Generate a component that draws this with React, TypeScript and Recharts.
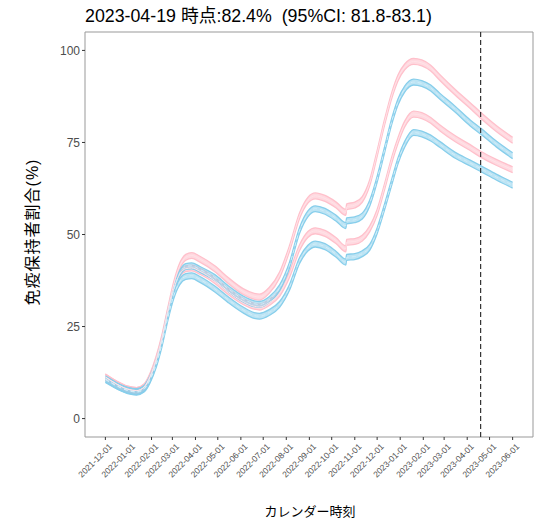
import React from 'react';
import { ComposedChart, Area, Line, XAxis, YAxis, ReferenceLine, ReferenceArea } from 'recharts';

// days since 2021-12-01
const days = [0, 15, 30, 42, 52, 60, 68, 76, 84, 92, 100, 108, 116, 127, 147, 165, 185, 200, 207, 220, 234, 247, 261, 272, 282, 295, 310, 323, 324, 335, 345, 355, 365, 375, 385, 393, 402, 414, 425, 437, 449, 470, 490, 504, 525, 547];

const pinkHigh = [11.3, 9.4, 8.0, 7.6, 8.6, 11.5, 16, 22, 29.5, 36.5, 41.5, 43.8, 44.3, 43.3, 40.7, 37.5, 34.5, 33.2, 33.0, 34.8, 39, 46, 55.2, 59.3, 60.5, 59.8, 58, 56, 57.5, 58, 59.5, 64, 72, 80.5, 88, 92.5, 95.5, 97, 96.6, 95.2, 92.7, 88.6, 85, 82.4, 78.8, 75.6];
const blueHigh = [10.8, 9.0, 7.7, 7.3, 8.2, 10.8, 15, 21, 28.5, 35, 39.5, 41.3, 41.5, 40.5, 38.3, 35.3, 32.5, 31.2, 31.0, 32.3, 35.5, 41.5, 51.2, 55.6, 57, 56.3, 54.4, 52.4, 53.7, 54, 55, 58.5, 65, 73, 81, 86, 89.5, 91.4, 91, 89.8, 87.6, 84, 80.3, 78.1, 74.6, 71.4];
const pinkLow = [11.3, 9.4, 8.0, 7.6, 8.5, 11.2, 15.6, 21.5, 29, 35.3, 39.3, 40.7, 40.9, 40, 37.5, 34.5, 31.8, 30.5, 30.3, 31.5, 34, 39, 46.5, 50, 51, 50.3, 48.3, 46.1, 47.9, 48.1, 49, 51.5, 56, 63, 70.5, 75.5, 80, 82.7, 82.3, 81, 79, 76, 73.6, 71.8, 69.6, 67.6];
const blueLow = [10.6, 8.9, 7.6, 7.2, 8.0, 10.5, 14.5, 20.3, 27.5, 33.5, 37.2, 38.6, 38.8, 37.8, 35.2, 32.3, 29.5, 28.0, 27.8, 28.8, 31, 35.5, 43, 46.3, 47.4, 46.7, 44.6, 42.5, 43.8, 44, 44.8, 46.5, 51, 57.5, 64.5, 70, 74.5, 77.7, 77.3, 76.2, 74.5, 71.5, 69.4, 67.9, 65.6, 63.4];

// 95% CI half width (percentage points)
const ciHalf = 0.8;

const tickDays = [0, 31, 62, 90, 121, 151, 182, 212, 243, 274, 304, 335, 365, 396, 427, 455, 486, 516, 547];
const tickLabels = ['2021-12-01', '2022-01-01', '2022-02-01', '2022-03-01', '2022-04-01', '2022-05-01', '2022-06-01', '2022-07-01', '2022-08-01', '2022-09-01', '2022-10-01', '2022-11-01', '2022-12-01', '2023-01-01', '2023-02-01', '2023-03-01', '2023-04-01', '2023-05-01', '2023-06-01'];
const yTicks = [0, 25, 50, 75, 100];
const markerDay = 504; // 2023-04-19

const title = '2023-04-19 時点:82.4%  (95%CI: 81.8-83.1)';
const yTitle = '免疫保持者割合(%)';
const xTitle = 'カレンダー時刻';

const data = days.map((d, i) => ({
  d,
  pH: [pinkHigh[i] - ciHalf, pinkHigh[i] + ciHalf],
  pHc: pinkHigh[i],
  bH: [blueHigh[i] - ciHalf, blueHigh[i] + ciHalf],
  bHc: blueHigh[i],
  pL: [pinkLow[i] - ciHalf, pinkLow[i] + ciHalf],
  pLc: pinkLow[i],
  bL: [blueLow[i] - ciHalf, blueLow[i] + ciHalf],
  bLc: blueLow[i],
}));

const xMin = -27.35;
const xMax = 574.35;

const FONT = '"Liberation Sans", Arial, "Noto Sans CJK JP", sans-serif';

const XTick = (props: any) => {
  const { x, y, payload } = props;
  const idx = tickDays.indexOf(payload.value);
  const label = idx >= 0 ? tickLabels[idx] : '';
  return (
    <g transform={`translate(${x + 3},${y + 1})`}>
      <text textAnchor="end" transform="rotate(-45)" fontSize={8.5} fill="#4d4d4d" fontFamily={FONT} dy="0.7em">
        {label}
      </text>
    </g>
  );
};

const PINK = '#FFC0CB';
const BLUE = '#87CEEB';

export default function App() {
  return (
    <div style={{ position: 'absolute', left: 0, top: 0, width: 539, height: 522, background: '#fff', fontFamily: FONT }}>
      <div style={{ position: 'absolute', left: 85, top: 4, fontSize: 17.8, color: '#000', whiteSpace: 'pre', lineHeight: '24px' }}>
        {title}
      </div>
      <div style={{ position: 'absolute', left: 31, top: 232, transform: 'translate(-50%,-50%) rotate(-90deg)', fontSize: 16, letterSpacing: 1, color: '#000', whiteSpace: 'nowrap' }}>
        {yTitle}
      </div>
      <div style={{ position: 'absolute', left: 310, top: 510, transform: 'translate(-50%,-50%)', fontSize: 13, color: '#000', whiteSpace: 'nowrap' }}>
        {xTitle}
      </div>
      <ComposedChart width={539} height={522} data={data} margin={{ top: 32, right: 6, bottom: 0, left: 0 }}>
        <XAxis
          type="number"
          dataKey="d"
          domain={[xMin, xMax]}
          ticks={tickDays}
          allowDataOverflow
          axisLine={false}
          tickLine={{ stroke: '#333' }}
          tickSize={3}
          height={85}
          tick={<XTick />}
          interval={0}
        />
        <YAxis
          type="number"
          domain={[-5, 105]}
          ticks={yTicks}
          allowDataOverflow
          axisLine={false}
          tickLine={{ stroke: '#333' }}
          tickSize={3}
          width={85}
          tick={{ fontSize: 12, fill: '#4d4d4d', fontFamily: FONT }}
        />
        <Area type="monotone" dataKey="pH" stroke={PINK} strokeWidth={1.3} fill={PINK} fillOpacity={0.6} isAnimationActive={false} />
        <Line type="monotone" dataKey="pHc" stroke="#ffe3e8" strokeWidth={1} dot={false} isAnimationActive={false} />
        <Area type="monotone" dataKey="pL" stroke={PINK} strokeWidth={1.3} fill={PINK} fillOpacity={0.6} isAnimationActive={false} />
        <Line type="monotone" dataKey="pLc" stroke="#ffe3e8" strokeWidth={1} dot={false} isAnimationActive={false} />
        <Area type="monotone" dataKey="bH" stroke={BLUE} strokeWidth={1.3} fill={BLUE} fillOpacity={0.55} isAnimationActive={false} />
        <Line type="monotone" dataKey="bHc" stroke="#d2eef9" strokeWidth={1} strokeDasharray="4 3" dot={false} isAnimationActive={false} />
        <Area type="monotone" dataKey="bL" stroke={BLUE} strokeWidth={1.3} fill={BLUE} fillOpacity={0.55} isAnimationActive={false} />
        <Line type="monotone" dataKey="bLc" stroke="#d2eef9" strokeWidth={1} strokeDasharray="4 3" dot={false} isAnimationActive={false} />
        <ReferenceLine x={markerDay} stroke="#333" strokeWidth={1.2} strokeDasharray="5 3" />
        <ReferenceArea x1={xMin} x2={xMax} y1={-5} y2={105} fill="none" stroke="#999" strokeWidth={1} ifOverflow="visible" />
      </ComposedChart>
    </div>
  );
}
